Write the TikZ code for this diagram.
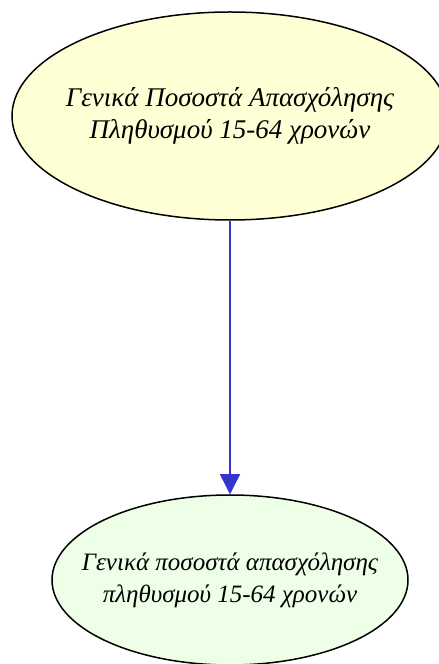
\documentclass[tikz,border=0pt]{standalone}
\usepackage{fontspec}
\setmainfont{Liberation Serif}
\usepackage{tikz}
\usetikzlibrary{shapes.geometric, arrows.meta, positioning}
\definecolor{topfill}{HTML}{FFFFD5}
\definecolor{leaffill}{HTML}{EEFFE8}
\definecolor{linkblue}{HTML}{3535CC}
\tikzset{
	bubble/.style={
		shape=ellipse,
		draw=black,
		line width=1.5pt,
		inner ysep=0pt,
		inner xsep=-40pt,
		align=center
	}
}
\begin{document}
\begin{tikzpicture}[x=1pt, y=1pt]

      \useasboundingbox (0,0) rectangle (439,664);

      \node[bubble, fill=topfill, minimum width=436pt, minimum height=208pt,
        font=\fontsize{27}{32}\selectfont\itshape] (rates) at (230,548)
        {Γενικά Ποσοστά Απασχόλησης\\Πληθυσμού 15-64 χρονών};
      \node[bubble, fill=leaffill, minimum width=356pt, minimum height=170pt,
        font=\fontsize{25}{32}\selectfont\itshape] (ratesleaf) at (230,84)
        {Γενικά ποσοστά απασχόλησης\\πληθυσμού 15-64 χρονών};

      \draw[linkblue, line width=1.4pt, -{Triangle[length=20pt, width=20pt]}] (rates) -- (ratesleaf);
    \end{tikzpicture}
\end{document}
